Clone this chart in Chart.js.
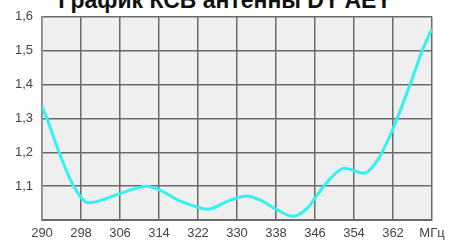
<!DOCTYPE html>
<html>
<head>
<meta charset="utf-8">
<script src="https://cdn.jsdelivr.net/npm/chart.js@4"></script>
<style>
  html, body { margin: 0; padding: 0; background: #fff; }
  #wrap { position: relative; width: 456px; height: 243px; overflow: hidden; }
  #title {
    position: absolute; left: -3px; width: 456px; top: -13px;
    text-align: center; font: bold 23px "Liberation Sans", Arial, sans-serif; color: #111;
  }
  canvas { position: absolute; left: 0; top: 0; }
</style>
</head>
<body>
<div id="wrap">
  <div id="title">График КСВ антенны DY AEY</div>
  <canvas id="vswr" width="456" height="243"></canvas>
</div>
<script>
// частота, МГц
var freqs = [290, 291, 293.5, 296.5, 299.5, 306, 311.5, 314, 318, 320, 324, 328, 332, 335, 338, 341.5, 344.5, 346, 349, 352, 356, 359, 362, 365.5, 368, 370];
// КСВ
var vswr = [1.335, 1.30, 1.20, 1.10, 1.051, 1.078, 1.10, 1.09, 1.058, 1.047, 1.032, 1.055, 1.071, 1.057, 1.032, 1.011, 1.036, 1.065, 1.12, 1.153, 1.138, 1.18, 1.27, 1.40, 1.50, 1.565];

var xTicks = [290, 298, 306, 314, 322, 330, 338, 346, 354, 362, 370];
var xUnit = 'МГц';
var yTicks = [1.0, 1.1, 1.2, 1.3, 1.4, 1.5, 1.6];

var points = freqs.map((f, i) => ({x: f, y: vswr[i]}));

const plotBg = {
    id: 'plotBg',
    beforeDraw(chart) {
        const a = chart.chartArea;
        const ctx = chart.ctx;
        ctx.save();
        ctx.fillStyle = '#efefef';
        ctx.fillRect(a.left, a.top, a.right - a.left, a.bottom - a.top);
        ctx.restore();
    }
};

const tickFont = {family: '"Liberation Sans", Arial, sans-serif', size: 13};

new Chart(document.getElementById('vswr'), {
    type: 'line',
    data: {
        datasets: [{
            data: points,
            borderColor: '#33f2f0',
            borderWidth: 3,
            pointRadius: 0,
            fill: false,
            cubicInterpolationMode: 'monotone'
        }]
    },
    options: {
        responsive: false,
        animation: false,
        layout: {padding: {left: 0, right: 24, top: 16, bottom: 0}},
        plugins: {legend: {display: false}, tooltip: {enabled: false}, title: {display: false}},
        scales: {
            x: {
                type: 'linear',
                min: xTicks[0],
                max: xTicks[xTicks.length - 1],
                afterBuildTicks: s => { s.ticks = xTicks.map(v => ({value: v})); },
                afterFit: s => { s.height = 23; },
                ticks: {
                    font: tickFont, color: '#444', padding: 6, maxRotation: 0, autoSkip: false,
                    callback: v => v === 370 ? xUnit : String(v)
                },
                grid: {color: '#6a6a6a', lineWidth: 1.5, drawTicks: false},
                border: {color: '#6a6a6a', width: 2}
            },
            y: {
                min: yTicks[0],
                max: yTicks[yTicks.length - 1],
                afterBuildTicks: s => { s.ticks = yTicks.map(v => ({value: v})); },
                afterFit: s => { s.width = 42; },
                ticks: {
                    font: tickFont, color: '#444', padding: 9,
                    callback: v => v === 1 ? '' : v.toFixed(1).replace('.', ',')
                },
                grid: {color: '#6a6a6a', lineWidth: 1.5, drawTicks: false},
                border: {color: '#8a8a8a', width: 1.5}
            }
        }
    },
    plugins: [plotBg]
});
</script>
</body>
</html>
